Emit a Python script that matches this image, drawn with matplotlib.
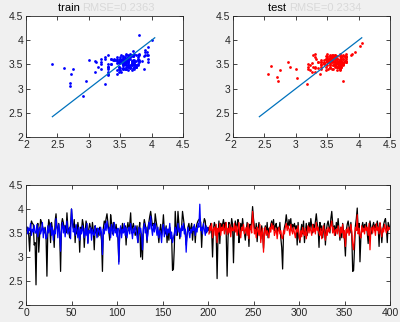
import numpy as np
import matplotlib
matplotlib.use("Agg")
import matplotlib.pyplot as plt

# Actual values (black) and model predictions (blue: train, red: test)
actual_train = [
    3.55, 3.62, 3.45, 3.12, 3.60, 3.75, 3.70, 3.68, 3.25, 3.30,
    2.42, 3.55, 3.70, 3.10, 3.45, 3.78, 3.72, 3.65, 3.58, 3.50,
    3.62, 3.45, 2.60, 3.55, 3.78, 3.68, 3.30, 3.72, 3.60, 3.52,
    3.20, 3.75, 3.90, 3.62, 3.55, 3.70, 3.48, 2.70, 3.68, 3.80,
    3.72, 3.58, 3.65, 3.50, 3.92, 3.62, 3.55, 3.40, 3.68, 4.00,
    3.70, 3.60, 3.78, 3.30, 3.65, 3.48, 3.72, 3.58, 3.10, 3.62,
    3.55, 3.78, 3.68, 3.20, 3.52, 3.75, 3.65, 3.30, 3.58, 3.70,
    3.60, 3.48, 3.72, 3.55, 3.15, 3.65, 3.50, 3.60, 3.42, 3.55,
    3.62, 3.50, 3.35, 2.70, 3.60, 3.75, 3.68, 3.80, 3.90, 3.72,
    3.55, 3.35, 3.88, 3.70, 3.48, 3.72, 3.60, 3.55, 3.68, 3.50,
    3.40, 2.90, 3.55, 3.62, 3.48, 3.70, 3.58, 3.52, 3.65, 3.25,
    3.60, 3.72, 3.55, 3.68, 3.92, 3.50, 3.62, 3.70, 3.58, 3.45,
    3.52, 3.65, 3.30, 3.55, 3.72, 3.00, 3.48, 2.95, 3.62, 3.78,
    3.68, 3.55, 3.30, 3.62, 3.72, 3.85, 3.95, 3.80, 3.65, 3.70,
    3.58, 3.90, 3.75, 3.62, 3.50, 3.30, 3.55, 3.68, 3.45, 3.60,
    3.88, 3.55, 3.48, 3.65, 3.30, 3.58, 3.35, 3.62, 3.50, 3.45,
    2.72, 2.75, 3.20, 3.95, 3.60, 3.45, 3.95, 3.70, 3.38, 3.55,
    3.62, 3.95, 3.80, 3.65, 3.50, 3.25, 3.48, 3.62, 3.70, 3.55,
    3.60, 3.70, 3.35, 3.58, 3.65, 3.30, 3.62, 3.70, 3.75, 3.78,
    3.80, 3.72, 3.20, 3.60, 3.68, 3.80, 3.75, 3.50, 3.62, 3.55,
]
pred_train = [
    3.62, 3.48, 3.60, 3.55, 3.70, 3.45, 3.58, 3.52, 3.66, 3.50,
    3.50, 3.68, 3.42, 3.58, 3.62, 3.48, 3.55, 3.72, 3.40, 3.60,
    3.55, 3.38, 3.42, 3.65, 3.50, 3.58, 3.70, 3.45, 3.62, 3.35,
    3.55, 3.48, 3.80, 3.62, 3.40, 3.68, 3.52, 3.12, 3.58, 3.72,
    3.50, 3.65, 3.42, 3.60, 3.75, 3.48, 3.55, 3.62, 3.38, 4.00,
    3.78, 3.52, 3.60, 3.45, 3.68, 3.55, 3.40, 3.62, 3.35, 3.58,
    3.48, 3.65, 3.52, 3.40, 3.60, 3.45, 3.70, 3.28, 3.55, 3.50,
    3.62, 3.35, 3.58, 3.48, 3.45, 3.65, 3.52, 3.40, 3.60, 3.55,
    3.45, 3.62, 3.50, 3.05, 3.58, 3.48, 3.70, 3.55, 3.75, 3.60,
    3.50, 3.62, 3.40, 3.68, 3.55, 3.45, 3.72, 3.50, 3.58, 3.42,
    3.60, 2.85, 3.48, 3.65, 3.40, 3.58, 3.50, 3.70, 3.45, 3.62,
    3.40, 3.55, 3.62, 3.48, 3.70, 3.55, 3.38, 3.60, 3.50, 3.65,
    3.55, 3.42, 3.30, 3.62, 3.50, 3.60, 3.45, 3.15, 3.58, 3.70,
    3.50, 3.62, 3.35, 3.48, 3.72, 3.58, 3.85, 3.60, 3.45, 3.68,
    3.52, 3.70, 3.58, 3.45, 3.62, 3.40, 3.55, 3.48, 3.30, 3.60,
    3.68, 3.42, 3.55, 3.62, 3.45, 3.58, 3.50, 3.70, 3.38, 3.52,
    3.30, 3.40, 3.50, 3.62, 3.45, 3.58, 3.70, 3.52, 3.60, 3.42,
    3.65, 3.55, 3.70, 3.48, 3.58, 3.10, 3.45, 3.62, 3.52, 3.40,
    3.58, 3.50, 3.62, 3.55, 3.68, 3.45, 3.60, 3.52, 3.70, 3.62,
    4.10, 3.55, 3.62, 3.48, 3.70, 3.58, 3.45, 3.65, 3.52, 3.60,
]
actual_test = [
    3.62, 3.50, 3.70, 3.55, 3.00, 3.58, 3.72, 3.65, 3.48, 2.55,
    3.45, 3.75, 3.28, 3.70, 3.55, 3.68, 3.78, 3.60, 3.72, 3.50,
    2.60, 3.40, 3.72, 3.65, 3.55, 3.80, 3.68, 2.88, 3.62, 3.75,
    3.55, 3.68, 3.78, 3.30, 3.45, 3.70, 3.55, 3.80, 3.62, 3.50,
    3.35, 3.55, 3.72, 3.62, 3.22, 3.68, 3.58, 3.75, 4.05, 3.80,
    3.62, 3.50, 3.70, 3.32, 3.60, 3.72, 3.55, 3.38, 3.65, 3.50,
    3.18, 3.55, 3.65, 3.48, 3.72, 3.40, 3.60, 3.52, 3.68, 3.75,
    3.60, 3.78, 3.55, 3.65, 3.70, 3.48, 3.62, 3.55, 3.72, 3.40,
    3.20, 2.75, 3.50, 3.62, 3.70, 3.88, 3.72, 3.60, 3.78, 3.65,
    3.80, 3.55, 3.68, 3.62, 3.70, 3.58, 3.65, 3.25, 3.72, 3.40,
    3.30, 3.55, 3.68, 3.48, 3.75, 3.30, 3.52, 3.70, 3.45, 3.62,
    3.72, 3.55, 3.80, 3.65, 3.50, 3.68, 3.58, 3.75, 3.90, 3.70,
    3.60, 3.20, 3.72, 3.55, 3.65, 3.40, 3.58, 3.70, 3.25, 3.55,
    3.68, 3.75, 3.62, 3.50, 3.80, 3.95, 3.70, 3.55, 3.65, 3.45,
    3.72, 3.60, 3.80, 3.55, 3.35, 3.62, 3.40, 3.70, 3.52, 3.35,
    3.02, 3.55, 3.68, 3.75, 3.62, 3.50, 3.72, 3.45, 2.70, 2.72,
    3.20, 3.65, 3.80, 4.02, 3.55, 3.70, 2.90, 3.40, 3.62, 3.72,
    3.55, 3.68, 3.60, 3.72, 3.50, 3.28, 3.58, 3.75, 3.62, 3.48,
    3.65, 3.72, 3.55, 3.68, 3.60, 3.75, 3.62, 3.22, 3.70, 3.58,
    3.30, 3.55, 3.68, 3.75, 3.80, 3.62, 3.30, 3.72, 3.65, 3.58,
]
pred_test = [
    3.48, 3.65, 3.55, 3.70, 3.40, 3.58, 3.62, 3.45, 3.68, 3.30,
    3.60, 3.52, 3.70, 3.45, 3.62, 3.55, 3.68, 3.48, 3.58, 3.72,
    3.47, 3.60, 3.50, 3.68, 3.42, 3.62, 3.55, 3.55, 3.70, 3.52,
    3.65, 3.45, 3.58, 3.72, 3.50, 3.40, 3.62, 3.55, 3.68, 3.48,
    3.55, 3.62, 3.45, 3.70, 3.38, 3.58, 3.65, 3.50, 3.95, 3.72,
    3.48, 3.58, 3.40, 3.62, 3.55, 3.45, 3.68, 3.30, 3.52, 3.60,
    3.10, 3.50, 3.62, 3.45, 3.55, 3.48, 3.40, 3.62, 3.52, 3.70,
    3.58, 3.65, 3.45, 3.52, 3.60, 3.38, 3.55, 3.62, 3.48, 3.55,
    3.40, 3.38, 3.55, 3.48, 3.62, 3.70, 3.55, 3.65, 3.58, 3.45,
    3.68, 3.55, 3.48, 3.62, 3.50, 3.40, 3.58, 3.52, 3.65, 3.45,
    3.35, 3.55, 3.42, 3.62, 3.50, 3.45, 3.60, 3.38, 3.52, 3.65,
    3.50, 3.62, 3.55, 3.45, 3.68, 3.52, 3.60, 3.48, 3.72, 3.55,
    3.62, 3.50, 3.45, 3.60, 3.38, 3.55, 3.65, 3.48, 3.35, 3.58,
    3.45, 3.62, 3.52, 3.58, 3.65, 3.75, 3.50, 3.62, 3.45, 3.55,
    3.58, 3.48, 3.65, 3.55, 3.42, 3.62, 3.50, 3.68, 3.40, 3.55,
    3.22, 3.58, 3.50, 3.62, 3.45, 3.55, 3.68, 3.52, 3.25, 3.15,
    3.45, 3.62, 3.55, 3.88, 3.48, 3.60, 3.45, 3.40, 3.65, 3.52,
    3.60, 3.48, 3.65, 3.55, 3.62, 3.45, 3.70, 3.15, 3.58, 3.62,
    3.50, 3.65, 3.58, 3.45, 3.70, 3.55, 3.62, 3.48, 3.72, 3.55,
    3.42, 3.60, 3.52, 3.68, 3.58, 3.50, 3.65, 3.55, 3.62, 3.58,
]
titles = ["train", "test"]
title_extra = ["RMSE=0.2363", "RMSE=0.2334"]
scatter_ticks = [2, 2.5, 3, 3.5, 4, 4.5]
line_xticks = [0, 50, 100, 150, 200, 250, 300, 350, 400]
line_yticks = [2, 2.5, 3, 3.5, 4, 4.5]

plt.rcParams['font.family'] = ['Liberation Sans', 'DejaVu Sans']
fig = plt.figure(figsize=(4.0, 3.22), dpi=100, facecolor='#f0f0f0')

def style(ax):
    ax.tick_params(direction='in', length=3, width=0.6, labelsize=7.5,
                   top=True, right=True, colors='#262626', pad=2)
    for s in ax.spines.values():
        s.set_linewidth(0.6)
        s.set_color('#262626')

actual_all = np.array(actual_train + actual_test)
lo, hi = actual_all.min(), actual_all.max()

axes_pos = [[0.065, 0.5745, 0.3925, 0.3758], [0.5825, 0.5745, 0.3925, 0.3758]]
sets = [(actual_train, pred_train, 'b'), (actual_test, pred_test, 'r')]
for i, (pos, (a, p, c)) in enumerate(zip(axes_pos, sets)):
    ax = fig.add_axes(pos)
    ax.scatter(a, p, s=4, color=c, linewidths=0)
    ax.plot([lo, hi], [lo, hi], color='#0072BD', lw=0.9)
    ax.set_xlim(2, 4.5)
    ax.set_ylim(2, 4.5)
    ax.set_xticks(scatter_ticks)
    ax.set_yticks(scatter_ticks)
    ax.set_xticklabels([f"{t:g}" for t in scatter_ticks])
    ax.set_yticklabels([f"{t:g}" for t in scatter_ticks])
    style(ax)
    ax.text(0.36, 1.025, titles[i] + " ", transform=ax.transAxes,
            ha='right', va='bottom', fontsize=8, color='black')
    ax.text(0.36, 1.025, title_extra[i], transform=ax.transAxes,
            ha='left', va='bottom', fontsize=8, color='#d9d9d9')

ax = fig.add_axes([0.065, 0.0528, 0.91, 0.3727])
x_all = np.arange(1, len(actual_all) + 1)
n_tr = len(actual_train)
ax.plot(x_all, actual_all, color='black', lw=0.9)
ax.plot(x_all[:n_tr], pred_train, color='blue', lw=0.9)
ax.plot(x_all[n_tr:], pred_test, color='red', lw=0.9)
ax.set_xlim(0, 400)
ax.set_ylim(2, 4.5)
ax.set_xticks(line_xticks)
ax.set_yticks(line_yticks)
ax.set_yticklabels([f"{t:g}" for t in line_yticks])
style(ax)

fig.savefig("out.png", dpi=100, facecolor=fig.get_facecolor())
